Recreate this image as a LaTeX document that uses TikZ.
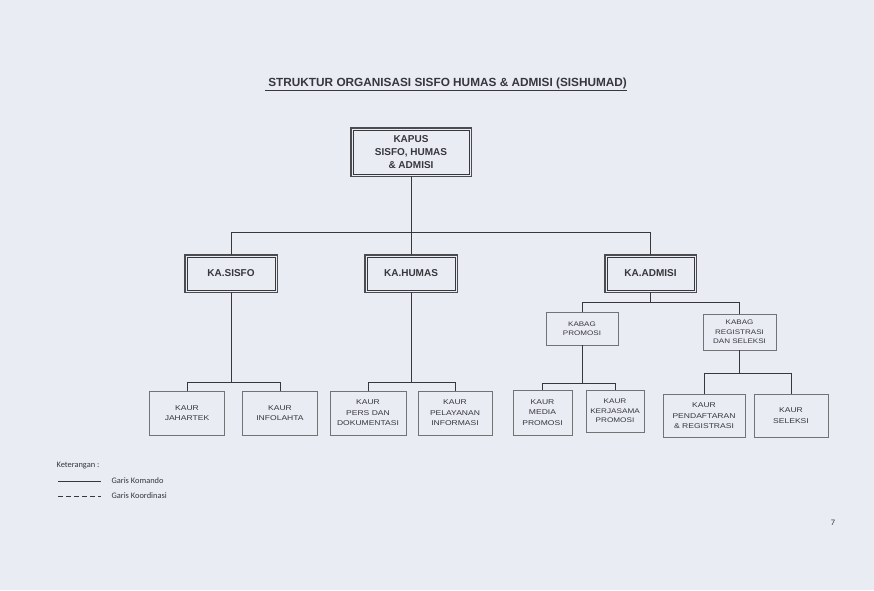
\documentclass[tikz,border=0pt]{standalone}
\usepackage{fontspec}
\setmainfont{Liberation Sans}
\newfontfamily\legendfont{Carlito}
\newfontfamily\wideFont[FakeStretch=1.22]{Liberation Sans}
\definecolor{paper}{RGB}{234,236,244}
\definecolor{ink}{RGB}{55,55,60}
\begin{document}
\begin{tikzpicture}[x=1pt,y=-1pt,
  line/.style={draw=ink,line width=0.8pt},
  mainbox/.style={draw=ink,line width=0.6pt,fill=paper,align=center,inner sep=0pt,font=\bfseries\fontsize{10}{13}\selectfont,text=ink},
  headbox/.style={mainbox,font=\bfseries\fontsize{10}{12}\selectfont},
  frame/.style={draw=ink!90,line width=1.6pt},
  subbox/.style={draw=ink!70,line width=0.6pt,fill=paper,align=center,inner sep=0pt,font=\wideFont\fontsize{7}{10.5}\selectfont,text=ink},
  kabag/.style={subbox,font=\wideFont\fontsize{6.6}{9.3}\selectfont},
  legend/.style={anchor=west,font=\legendfont\fontsize{8.4}{9}\selectfont,text=ink}]
\fill[paper] (0,0) rectangle (874,590);
\useasboundingbox (0,0) rectangle (874,590);
\node[font=\bfseries\fontsize{11.8}{13}\selectfont,text=ink] (title) at (446,84) {\underline{\ STRUKTUR ORGANISASI SISFO HUMAS \& ADMISI (SISHUMAD)}};
\node[mainbox,minimum width=116,minimum height=44] (kapus) at (411,152) {KAPUS\\SISFO, HUMAS\\\& ADMISI};
\node[headbox,minimum width=88,minimum height=33] (sisfo) at (231,273.5) {KA.SISFO};
\node[headbox,minimum width=88,minimum height=33] (humas) at (411,273.5) {KA.HUMAS};
\node[headbox,minimum width=87,minimum height=33] (admisi) at (650.5,273.5) {KA.ADMISI};
\foreach \n in {kapus,sisfo,humas,admisi}
  \draw[frame] ([shift={(-2pt,2pt)}]\n.north west) rectangle ([shift={(2pt,-2pt)}]\n.south east);
\node[kabag,minimum width=72,minimum height=33] (promosi) at (582,328.5) {KABAG\\PROMOSI};
\node[kabag,minimum width=73,minimum height=36] (registrasi) at (739.5,332) {KABAG\\REGISTRASI\\DAN SELEKSI};
\node[subbox,minimum width=75,minimum height=44] (jahartek) at (187,413) {KAUR\\JAHARTEK};
\node[subbox,minimum width=75,minimum height=44] (infolahta) at (280,413) {KAUR\\INFOLAHTA};
\node[subbox,minimum width=76,minimum height=44] (pers) at (368,413) {KAUR\\PERS DAN\\DOKUMENTASI};
\node[subbox,minimum width=74,minimum height=44] (pelayanan) at (455,413) {KAUR\\PELAYANAN\\INFORMASI};
\node[subbox,minimum width=59,minimum height=45] (media) at (542.5,412.5) {KAUR\\MEDIA\\PROMOSI};
\node[subbox,minimum width=58,minimum height=42,font=\wideFont\fontsize{6.7}{9.5}\selectfont] (kerjasama) at (615,411) {KAUR\\KERJASAMA\\PROMOSI};
\node[subbox,minimum width=82,minimum height=43] (pendaftaran) at (704,416) {KAUR\\PENDAFTARAN\\\& REGISTRASI};
\node[subbox,minimum width=74,minimum height=43] (seleksi) at (791,415.5) {KAUR\\SELEKSI};
% connectors
\draw[line] ([yshift=-2pt]kapus.south) -- ([yshift=2pt]humas.north);
\draw[line] ([yshift=2pt]sisfo.north) -- (sisfo.north |- 0,232) -| ([yshift=2pt]admisi.north);
\draw[line] ([yshift=-2pt]sisfo.south) -- (sisfo.south |- 0,382);
\draw[line] (jahartek.north) -- (jahartek.north |- 0,382) -| (infolahta.north);
\draw[line] ([yshift=-2pt]humas.south) -- (humas.south |- 0,382);
\draw[line] (pers.north) -- (pers.north |- 0,382) -| (pelayanan.north);
\draw[line] ([yshift=-2pt]admisi.south) -- (admisi.south |- 0,302);
\draw[line] (promosi.north) -- (promosi.north |- 0,302) -| (registrasi.north);
\draw[line] (promosi.south) -- (promosi.south |- 0,383);
\draw[line] (media.north) -- (media.north |- 0,383) -| (kerjasama.north);
\draw[line] (registrasi.south) -- (registrasi.south |- 0,373);
\draw[line] (pendaftaran.north) -- (pendaftaran.north |- 0,373) -| (seleksi.north);
% legend
\node[legend] (ket) at (53,466) {Keterangan :};
\coordinate (k1) at (58,481); \coordinate (k2) at (101,481);
\coordinate (d1) at (58,496); \coordinate (d2) at (101,496);
\draw[draw=ink,line width=0.6pt] (k1) -- (k2);
\draw[draw=ink,line width=0.6pt,dash pattern=on 5pt off 3pt] (d1) -- (d2);
\node[legend] (komando) at (108,481) {Garis Komando};
\node[legend] (koord) at (108,496) {Garis Koordinasi};
\node[font=\legendfont\fontsize{8.4}{9}\selectfont,text=ink] (page) at (833,523) {7};
\end{tikzpicture}
\end{document}
